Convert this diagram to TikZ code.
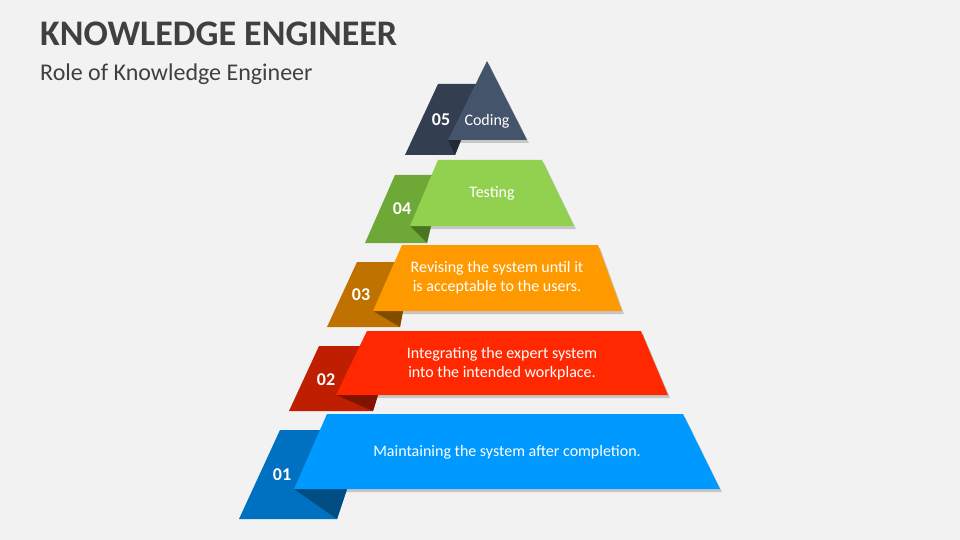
\documentclass[tikz,border=0pt]{standalone}
\usepackage{fontspec}
\setmainfont{Carlito}
\definecolor{bgc}{HTML}{F2F2F2}
\definecolor{ttl}{HTML}{404040}
\definecolor{fA}{HTML}{0099FF}\definecolor{bA}{HTML}{0070C0}\definecolor{dA}{HTML}{004D84}
\definecolor{fB}{HTML}{FF2800}\definecolor{bB}{HTML}{C01E00}\definecolor{dB}{HTML}{7F1400}
\definecolor{fC}{HTML}{FF9900}\definecolor{bC}{HTML}{BF7200}\definecolor{dC}{HTML}{7F4C00}
\definecolor{fD}{HTML}{92D050}\definecolor{bD}{HTML}{6EA836}\definecolor{dD}{HTML}{4A7623}
\definecolor{fE}{HTML}{44546A}\definecolor{bE}{HTML}{333F50}\definecolor{dE}{HTML}{222A35}
\tikzset{
  shade/.style={fill=black,opacity=0.18,shift={(2,3)}},
  bodytext/.style={text=white,font=\fontsize{16}{19}\selectfont,align=center,inner sep=0pt},
  numtext/.style={text=white,font=\bfseries\fontsize{18}{20}\selectfont,inner sep=0pt},
}
\begin{document}
\begin{tikzpicture}[x=1pt,y=-1pt]
\fill[bgc] (0,0) rectangle (960,540);
\useasboundingbox (0,0) rectangle (960,540);
% title
\node[anchor=base west,inner sep=0pt,text=ttl,font=\bfseries\fontsize{36}{40}\selectfont] (title) at (40,46) {KNOWLEDGE ENGINEER};
\node[anchor=base west,inner sep=0pt,text=ttl,font=\fontsize{24}{28}\selectfont] (sub) at (40,81) {Role of Knowledge Engineer};
% level 1
\fill[shade] (327,414) -- (683,414) -- (720,489) -- (294,489) -- cycle;
\fill[bA] (239,519) -- (280,430) -- (340,430) -- (347,489) -- (337,519) -- cycle;
\fill[dA] (294,489) -- (347,489) -- (337,519) -- cycle;
\fill[fA] (327,414) -- (683,414) -- (720,489) -- (294,489) -- cycle;
\node[bodytext] (t1) at (507,452) {Maintaining the system after completion.};
\node[numtext] (n1) at (282,475) {01};
% level 2
\fill[shade] (367,331) -- (641,331) -- (668,395) -- (336,395) -- cycle;
\fill[bB] (289,411) -- (319,346) -- (370,346) -- (378,395) -- (373,411) -- cycle;
\fill[dB] (336,395) -- (378,395) -- (373,411) -- cycle;
\fill[fB] (367,331) -- (641,331) -- (668,395) -- (336,395) -- cycle;
\node[bodytext] (t2) at (502,364) {Integrating the expert system\\into the intended workplace.};
\node[numtext] (n2) at (326,380) {02};
% level 3
\fill[shade] (402,245) -- (598,245) -- (622,311) -- (373,311) -- cycle;
\fill[bC] (327,327) -- (357,262) -- (400,262) -- (403,311) -- (400,327) -- cycle;
\fill[dC] (373,311) -- (403,311) -- (400,327) -- cycle;
\fill[fC] (402,245) -- (598,245) -- (622,311) -- (373,311) -- cycle;
\node[bodytext] (t3) at (497,278) {Revising the system until it\\is acceptable to the users.};
\node[numtext] (n3) at (361,295) {03};
% level 4
\fill[shade] (438,160) -- (542,160) -- (574,226) -- (410,226) -- cycle;
\fill[bD] (365,243) -- (395,175) -- (435,175) -- (431,226) -- (427,243) -- cycle;
\fill[dD] (410,226) -- (431,226) -- (427,243) -- cycle;
\fill[fD] (438,160) -- (542,160) -- (574,226) -- (410,226) -- cycle;
\node[bodytext] (t4) at (492,193) {Testing};
\node[numtext] (n4) at (402,209) {04};
% level 5
\fill[shade] (487,61) -- (527,140) -- (448,140) -- cycle;
\fill[bE] (405,155) -- (438,84) -- (476,84) -- (461,140) -- (455,155) -- cycle;
\fill[dE] (448,140) -- (461,140) -- (455,155) -- cycle;
\fill[fE] (487,61) -- (527,140) -- (448,140) -- cycle;
\node[bodytext] (t5) at (487,121) {Coding};
\node[numtext] (n5) at (441,120) {05};
\end{tikzpicture}
\end{document}
